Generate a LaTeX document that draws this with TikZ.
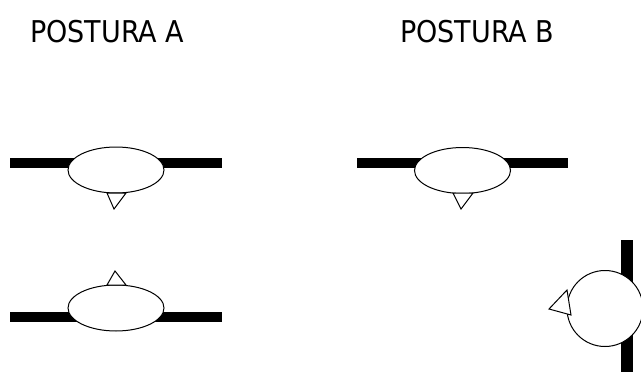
\documentclass[tikz,border=0pt]{standalone}
\usepackage{fontspec}
\setmainfont{DejaVu Sans Condensed}
\usetikzlibrary{shapes.geometric}
\begin{document}
\begin{tikzpicture}[x=1pt,y=-1pt,
  bar/.style={line width=10pt,black},
  body/.style={ellipse,draw,fill=white,line width=1pt,inner sep=0pt,
    minimum width=96pt,minimum height=46pt},
  head/.style={draw,fill=white,line width=1pt,line join=miter},
  label/.style={anchor=base west,inner sep=0pt,
    font=\fontsize{30}{36}\selectfont}]
\useasboundingbox (0,0) rectangle (641,372);

% titles
\node[label] (ta) at (30,42) {POSTURA A};
\node[label] (tb) at (400,42) {POSTURA B};

% posture A, top
\coordinate (a1l) at (10,163);
\coordinate (a1r) at (222,163);
\draw[bar] (a1l) -- (a1r);
\node[body] (a1) at (116,170) {};
\draw[head] (107,193) -- (126,193) -- (114,209) -- cycle;

% posture A, bottom
\coordinate (a2l) at (10,316.5);
\coordinate (a2r) at (222,316.5);
\draw[bar] (a2l) -- (a2r);
\node[body] (a2) at (116,308) {};
\draw[head] (107,285) -- (126,285) -- (115,271) -- cycle;

% posture B, top
\coordinate (b1l) at (357,163);
\coordinate (b1r) at (568,163);
\draw[bar] (b1l) -- (b1r);
\node[body] (b1) at (462.5,170.5) {};
\draw[head] (453,193) -- (473,193) -- (461,209) -- cycle;

% posture B, turned
\coordinate (b2t) at (626.5,240);
\coordinate (b2b) at (626.5,372);
\draw[line width=12pt] (b2t) -- (b2b);
\node[circle,draw,fill=white,line width=1pt,inner sep=0pt,
  minimum size=76pt] (b2) at (605,308.5) {};
\draw[head] (567,290) -- (571,315) -- (549,309) -- cycle;
\end{tikzpicture}
\end{document}
